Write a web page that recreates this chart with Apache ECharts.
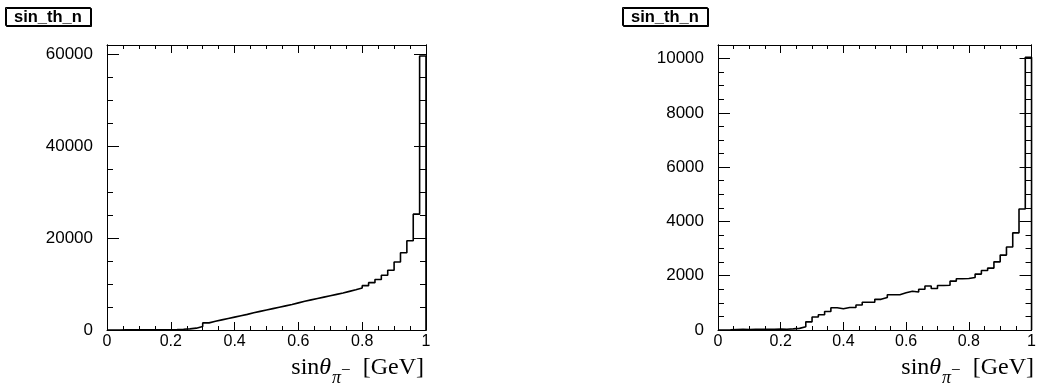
<!DOCTYPE html>
<html>
<head>
<meta charset="utf-8">
<script src="https://cdn.jsdelivr.net/npm/echarts@6/dist/echarts.min.js"></script>
<style>
  html, body { margin: 0; padding: 0; background: #fff; }
  #main { width: 1039px; height: 386px; }
</style>
</head>
<body>
<div id="main"></div>
<script>
// bin edges (50 bins of 0.02 from 0 to 1)
const binEdges = [0, 0.02, 0.04, 0.06, 0.08, 0.1, 0.12, 0.14, 0.16, 0.18,
  0.2, 0.22, 0.24, 0.26, 0.28, 0.3, 0.32, 0.34, 0.36, 0.38,
  0.4, 0.42, 0.44, 0.46, 0.48, 0.5, 0.52, 0.54, 0.56, 0.58,
  0.6, 0.62, 0.64, 0.66, 0.68, 0.7, 0.72, 0.74, 0.76, 0.78,
  0.8, 0.82, 0.84, 0.86, 0.88, 0.9, 0.92, 0.94, 0.96, 0.98, 1]

// left pad histogram contents
const leftCounts = [0, 0, 20, 30, 30, 40, 40, 50, 50, 60,
  80, 150, 250, 400, 750, 1550, 1900, 2200, 2500, 2800,
  3100, 3400, 3750, 4050, 4350, 4650, 4950, 5250, 5550, 5900,
  6250, 6550, 6850, 7150, 7450, 7750, 8050, 8400, 8750, 9150,
  9650, 10300, 11000, 11900, 13000, 14800, 16800, 19400, 25200, 59600]

// right pad histogram contents
const rightCounts = [0, 5, 20, 25, 20, 25, 30, 25, 30, 35,
  30, 40, 60, 120, 300, 480, 560, 680, 820, 780,
  830, 830, 920, 1020, 1020, 1130, 1200, 1300, 1300, 1370,
  1430, 1400, 1500, 1620, 1530, 1640, 1650, 1800, 1890, 1900,
  1935, 2060, 2190, 2280, 2510, 2760, 3060, 3580, 4460, 10050]

const histTitle = 'sin_th_n'
const yMax = [62000, 10500]
const yMajor = [20000, 2000]
const yMinor = [5000, 500]

const chart = echarts.init(document.getElementById('main'))

const black = '#000'
const sans = 'Liberation Sans'
const serif = 'Liberation Serif'

function steps (counts) {
  const pts = counts.map((v, i) => [binEdges[i], v])
  pts.push([binEdges[counts.length], counts[counts.length - 1]])
  pts.push([binEdges[counts.length], 0])
  return pts
}

function xAxes (gi) {
  const base = {
    gridIndex: gi,
    type: 'value',
    min: 0,
    max: 1,
    interval: 0.2,
    axisLine: { show: true, onZero: false, lineStyle: { color: black, width: 1 } },
    axisTick: { show: true, inside: true, length: 8, lineStyle: { color: black } },
    minorTick: { show: true, splitNumber: 4, length: 4, lineStyle: { color: black } },
    splitLine: { show: false },
    minorSplitLine: { show: false }
  }
  return [
    Object.assign({}, base, {
      position: 'bottom',
      axisLabel: {
        fontFamily: sans, fontSize: 16, color: black, margin: 4,
        formatter: (v) => String(+v.toFixed(1))
      }
    }),
    Object.assign({}, base, { position: 'top', axisLabel: { show: false } })
  ]
}

function yAxes (gi) {
  const base = {
    gridIndex: gi,
    type: 'value',
    min: 0,
    max: yMax[gi],
    axisLine: { show: true, onZero: false, lineStyle: { color: black, width: 1 } },
    splitLine: { show: false }
  }
  const major = { interval: yMajor[gi], axisTick: { inside: true, length: 12, lineStyle: { color: black } } }
  const minor = { interval: yMinor[gi], axisTick: { inside: true, length: 6, lineStyle: { color: black } }, axisLabel: { show: false } }
  return [
    Object.assign({}, base, major, {
      position: 'left',
      axisLabel: {
        fontFamily: sans, fontSize: 17, color: black, margin: 14,
        showMaxLabel: false,
        formatter: (v) => (v % yMajor[gi] === 0 ? String(v) : '')
      }
    }),
    Object.assign({}, base, minor, { position: 'left' }),
    Object.assign({}, base, major, { position: 'right', axisLabel: { show: false } }),
    Object.assign({}, base, minor, { position: 'right' })
  ]
}

// x axis title, TLatex-like: sin#theta_{#pi^{-}}  [GeV]
function axisTitle (rightEdge) {
  return {
    type: 'text',
    right: 1039 - rightEdge,
    top: 356,
    style: {
      text: '{r|sin}{i|θ}{s|π}{m|−}{r|  [GeV]}',
      fill: black,
      rich: {
        r: { fontFamily: serif, fontSize: 24, verticalAlign: 'top' },
        i: { fontFamily: serif, fontSize: 24, fontStyle: 'italic', verticalAlign: 'top' },
        s: { fontFamily: serif, fontSize: 18, fontStyle: 'italic', verticalAlign: 'top', padding: [13, 0, 0, 1] },
        m: { fontFamily: serif, fontSize: 17, verticalAlign: 'top', padding: [6, 0, 0, 0] }
      }
    }
  }
}

function titleBox (left) {
  return {
    text: histTitle,
    left: left,
    top: 8,
    padding: [1, 9, 0, 9],
    backgroundColor: '#fff',
    borderColor: black,
    borderWidth: 1,
    shadowColor: black,
    shadowOffsetX: 1,
    shadowOffsetY: 1,
    shadowBlur: 0,
    textStyle: { fontFamily: sans, fontSize: 16.5, fontWeight: 'bold', color: black, lineHeight: 16 }
  }
}

const option = {
  animation: false,
  backgroundColor: '#fff',
  title: [titleBox(5), titleBox(622)],
  grid: [
    { left: 107, top: 45, width: 319, height: 285 },
    { left: 718, top: 45, width: 318, height: 285 }
  ],
  xAxis: xAxes(0).concat(xAxes(1)),
  yAxis: yAxes(0).concat(yAxes(1)),
  series: [
    {
      type: 'line', xAxisIndex: 0, yAxisIndex: 0, step: 'end',
      data: steps(leftCounts), symbol: 'none',
      lineStyle: { color: black, width: 1.6 }
    },
    {
      type: 'line', xAxisIndex: 2, yAxisIndex: 4, step: 'end',
      data: steps(rightCounts), symbol: 'none',
      lineStyle: { color: black, width: 1.6 }
    }
  ],
  graphic: [axisTitle(424), axisTitle(1034)]
}

chart.setOption(option)
</script>
</body>
</html>
